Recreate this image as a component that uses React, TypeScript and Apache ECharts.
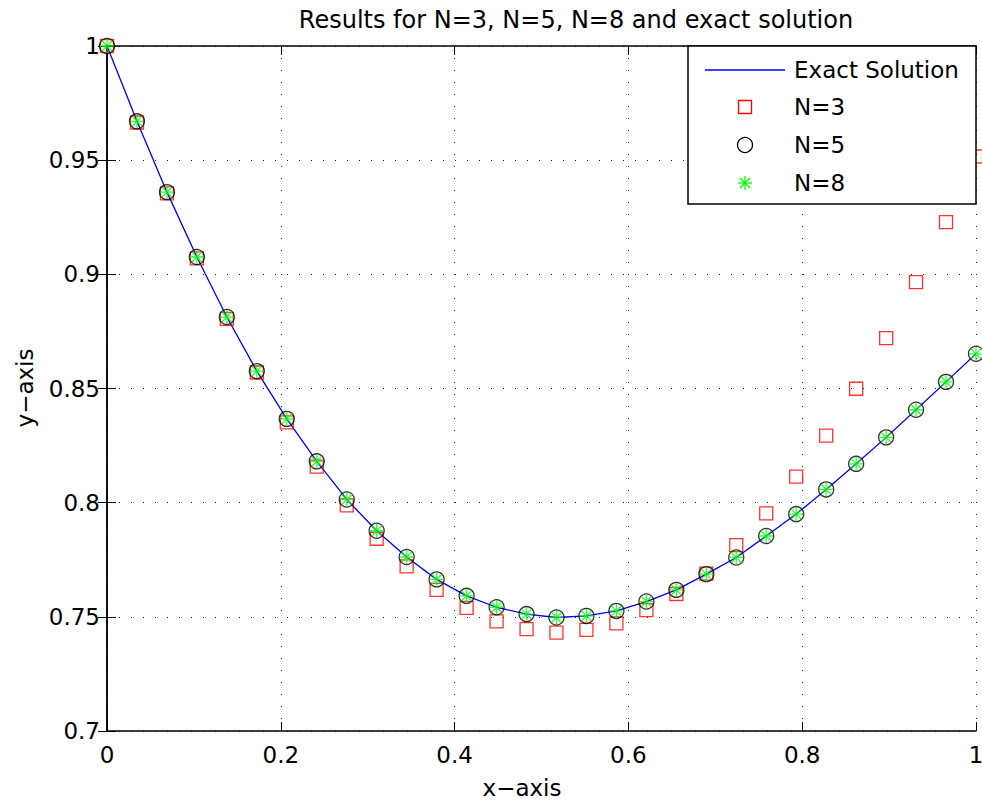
import React, { useEffect, useRef } from "react";
import * as echarts from "echarts";

const xs = [0, 0.0345, 0.069, 0.1034, 0.1379, 0.1724, 0.2069, 0.2414, 0.2759, 0.3103, 0.3448, 0.3793, 0.4138, 0.4483, 0.4828, 0.5172, 0.5517, 0.5862, 0.6207, 0.6552, 0.6897, 0.7241, 0.7586, 0.7931, 0.8276, 0.8621, 0.8966, 0.931, 0.9655, 1];

const exact = [1.0, 0.967, 0.936, 0.9076, 0.8813, 0.8576, 0.8367, 0.8181, 0.8014, 0.7877, 0.7762, 0.7664, 0.7592, 0.7542, 0.7512, 0.7497, 0.7504, 0.7526, 0.7567, 0.7618, 0.7687, 0.776, 0.7854, 0.795, 0.8058, 0.817, 0.8286, 0.8407, 0.8529, 0.8652];

const n3 = [1.0, 0.9665, 0.9355, 0.907, 0.8805, 0.857, 0.8352, 0.8158, 0.7988, 0.7842, 0.7721, 0.7618, 0.7539, 0.748, 0.7446, 0.7431, 0.7443, 0.7471, 0.7529, 0.76, 0.7689, 0.7814, 0.7953, 0.8114, 0.8294, 0.8499, 0.8721, 0.8966, 0.9229, 0.9516];

const n5 = [1.0, 0.967, 0.936, 0.9076, 0.8813, 0.8576, 0.8367, 0.8181, 0.8014, 0.7877, 0.7762, 0.7664, 0.7592, 0.7542, 0.7512, 0.7497, 0.7504, 0.7526, 0.7567, 0.7618, 0.7687, 0.776, 0.7854, 0.795, 0.8058, 0.817, 0.8286, 0.8407, 0.8529, 0.8652];

const n8 = [1.0, 0.967, 0.936, 0.9076, 0.8813, 0.8576, 0.8367, 0.8181, 0.8014, 0.7877, 0.7762, 0.7664, 0.7592, 0.7542, 0.7512, 0.7497, 0.7504, 0.7526, 0.7567, 0.7618, 0.7687, 0.776, 0.7854, 0.795, 0.8058, 0.817, 0.8286, 0.8407, 0.8529, 0.8652];

const seriesNames = ["Exact Solution", "N=3", "N=5", "N=8"];
const titleText = "Results for N=3, N=5, N=8 and exact solution";
const xName = "x\u2212axis";
const yName = "y\u2212axis";

const FONT = "DejaVu Sans";
const ASTERISK = "path://M0 5L10 5M5 0L5 10M1.46 1.46L8.54 8.54M1.46 8.54L8.54 1.46";

const pairs = (ys: number[]) => xs.map((x, i) => [x, ys[i]]);

export default function App() {
  const ref = useRef<HTMLDivElement>(null);
  useEffect(() => {
    const chart = echarts.init(ref.current!, undefined, { renderer: "svg" });
    const axisCommon = {
      type: "value" as const,
      axisLine: { show: true, lineStyle: { color: "#000", width: 1.5 } },
      axisTick: { show: true, inside: true, length: 9, lineStyle: { color: "#000", width: 1 } },
    };
    const legendX = 688, legendY = 46, legendW = 288, legendH = 158;
    const rowY = [70, 107, 145, 183];
    const iconX = 745, textX = 794;
    const Z = 100;
    const textStyle = { fill: "#000", fontFamily: FONT, fontSize: 23 };
    chart.setOption({
      animation: false,
      backgroundColor: "#fff",
      title: {
        text: titleText,
        left: 571,
        textAlign: "center",
        top: 3,
        textStyle: { fontFamily: FONT, fontSize: 24, fontWeight: "normal", color: "#000" },
      },
      grid: { left: 107, right: 6, top: 46, bottom: 70, containLabel: false, outerBoundsMode: "none" },
      xAxis: [
        {
          ...axisCommon,
          position: "bottom",
          min: 0,
          max: 1,
          interval: 0.2,
          axisLabel: { show: true, margin: 12, fontFamily: FONT, fontSize: 23, color: "#000" },
          splitLine: { show: true, lineStyle: { color: "#222", type: [1, 11], width: 1 } },
        },
        {
          ...axisCommon,
          position: "top",
          min: 0,
          max: 1,
          interval: 0.2,
          axisLabel: { show: false },
          splitLine: { show: false },
        },
      ],
      yAxis: [
        {
          ...axisCommon,
          position: "left",
          min: 0.7,
          max: 1,
          interval: 0.05,
          axisLabel: { show: true, margin: 7, fontFamily: FONT, fontSize: 23, color: "#000" },
          splitLine: { show: true, lineStyle: { color: "#222", type: [1, 11], width: 1 } },
        },
        {
          ...axisCommon,
          position: "right",
          min: 0.7,
          max: 1,
          interval: 0.05,
          axisLabel: { show: false },
          splitLine: { show: false },
        },
      ],
      series: [
        {
          name: seriesNames[0],
          type: "line",
          data: pairs(exact),
          symbol: "none",
          lineStyle: { color: "#0000ff", width: 1.3 },
          z: 2,
        },
        {
          name: seriesNames[1],
          type: "scatter",
          data: pairs(n3),
          symbol: "rect",
          symbolSize: 13,
          clip: false,
          itemStyle: { color: "rgba(0,0,0,0)", borderColor: "#ff0000", borderWidth: 1.3 },
          z: 3,
        },
        {
          name: seriesNames[2],
          type: "scatter",
          data: pairs(n5),
          symbol: "circle",
          symbolSize: 15,
          clip: false,
          itemStyle: { color: "rgba(0,0,0,0)", borderColor: "#000", borderWidth: 1.3 },
          z: 4,
        },
        {
          name: seriesNames[3],
          type: "scatter",
          data: pairs(n8),
          symbol: ASTERISK,
          symbolSize: 14,
          clip: false,
          itemStyle: { color: "rgba(0,0,0,0)", borderColor: "#00ff00", borderWidth: 1.3 },
          z: 5,
        },
      ],
      graphic: [
        {
          type: "text",
          z: Z,
          x: 522,
          y: 788,
          style: { ...textStyle, text: xName, textAlign: "center", verticalAlign: "middle" },
        },
        {
          type: "text",
          z: Z,
          x: 25,
          y: 388,
          rotation: Math.PI / 2,
          style: { ...textStyle, text: yName, textAlign: "center", verticalAlign: "middle" },
        },
        {
          type: "rect",
          z: Z,
          shape: { x: legendX, y: legendY, width: legendW, height: legendH },
          style: { fill: "#fff", stroke: "#000", lineWidth: 1.5 },
        },
        {
          type: "line",
          z: Z + 1,
          shape: { x1: 705, y1: rowY[0], x2: 785, y2: rowY[0] },
          style: { stroke: "#0000ff", lineWidth: 1.3 },
        },
        {
          type: "rect",
          z: Z + 1,
          shape: { x: iconX - 6.5, y: rowY[1] - 6.5, width: 13, height: 13 },
          style: { fill: "none", stroke: "#ff0000", lineWidth: 1.3 },
        },
        {
          type: "circle",
          z: Z + 1,
          shape: { cx: iconX, cy: rowY[2], r: 7.5 },
          style: { fill: "none", stroke: "#000", lineWidth: 1.3 },
        },
        { type: "line", z: Z + 1, shape: { x1: iconX - 7, y1: rowY[3], x2: iconX + 7, y2: rowY[3] }, style: { stroke: "#00ff00", lineWidth: 1.3 } },
        { type: "line", z: Z + 1, shape: { x1: iconX, y1: rowY[3] - 7, x2: iconX, y2: rowY[3] + 7 }, style: { stroke: "#00ff00", lineWidth: 1.3 } },
        { type: "line", z: Z + 1, shape: { x1: iconX - 5, y1: rowY[3] - 5, x2: iconX + 5, y2: rowY[3] + 5 }, style: { stroke: "#00ff00", lineWidth: 1.3 } },
        { type: "line", z: Z + 1, shape: { x1: iconX - 5, y1: rowY[3] + 5, x2: iconX + 5, y2: rowY[3] - 5 }, style: { stroke: "#00ff00", lineWidth: 1.3 } },
        ...seriesNames.map((n, i) => ({
          type: "text",
          z: Z + 1,
          x: textX,
          y: rowY[i],
          style: { ...textStyle, text: n, verticalAlign: "middle", textAlign: "left" },
        })),
      ],
    });
    return () => chart.dispose();
  }, []);
  return <div ref={ref} style={{ width: 982, height: 801, position: "absolute", left: 0, top: 0 }} />;
}
